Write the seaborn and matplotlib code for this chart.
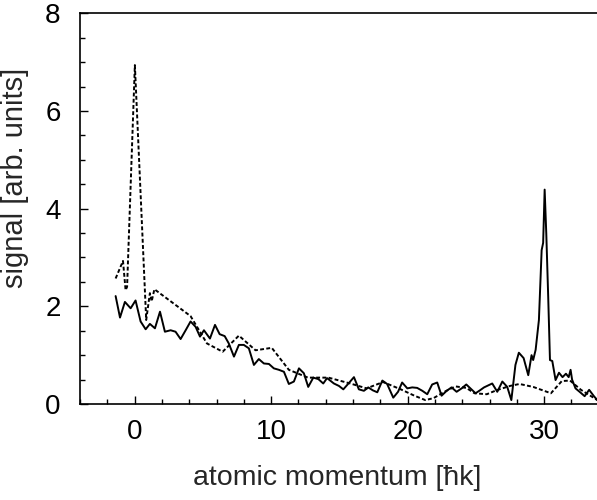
import numpy as np
import pandas as pd
import matplotlib
matplotlib.use("Agg")
import matplotlib.pyplot as plt
from matplotlib.ticker import MultipleLocator
import seaborn as sns

# Measured momentum distributions (solid: after transfer, dashed: reference)
solid_x = [-1.39, -1.07, -0.71, -0.29, 0.07, 0.44, 0.81, 1.12, 1.49, 1.86,
           2.22, 2.64, 3.00, 3.37, 3.74, 4.10, 4.47, 4.79, 5.08, 5.52,
           5.89, 6.23, 6.60, 6.90, 7.28, 7.64, 8.00, 8.37, 8.74, 9.10,
           9.47, 9.84, 10.20, 10.57, 10.94, 11.30, 11.67, 12.04, 12.40, 12.72,
           13.09, 13.46, 13.82, 14.10, 14.60, 14.97, 15.29, 15.70, 16.07, 16.43,
           16.80, 17.12, 17.45, 17.78, 18.15, 18.50, 18.95, 19.30, 19.60, 19.98,
           20.34, 20.70, 21.08, 21.44, 21.80, 22.17, 22.49, 22.86, 23.22, 23.59,
           23.96, 24.30, 24.60, 24.98, 25.30, 25.60, 26.20, 26.57, 26.94, 27.30,
           27.60, 27.90, 28.15, 28.50, 28.84, 29.08, 29.20, 29.38, 29.62, 29.82,
           29.93, 30.04, 30.16, 30.30, 30.43, 30.60, 30.84, 31.09, 31.35, 31.60,
           31.80, 31.94, 32.05, 32.30, 32.60, 32.97, 33.30, 33.65, 33.90]
solid_y = [2.21, 1.77, 2.09, 1.96, 2.12, 1.69, 1.53, 1.64, 1.55, 1.89,
           1.48, 1.51, 1.48, 1.33, 1.51, 1.69, 1.58, 1.38, 1.51, 1.34,
           1.62, 1.43, 1.39, 1.24, 0.97, 1.21, 1.21, 1.14, 0.80, 0.92,
           0.83, 0.82, 0.73, 0.70, 0.66, 0.41, 0.46, 0.73, 0.63, 0.35,
           0.54, 0.51, 0.42, 0.53, 0.42, 0.37, 0.30, 0.43, 0.55, 0.30,
           0.27, 0.34, 0.28, 0.24, 0.48, 0.41, 0.13, 0.25, 0.44, 0.32,
           0.34, 0.33, 0.27, 0.20, 0.40, 0.44, 0.17, 0.27, 0.34, 0.25,
           0.32, 0.40, 0.32, 0.22, 0.28, 0.34, 0.42, 0.25, 0.46, 0.35,
           0.08, 0.80, 1.05, 0.94, 0.59, 1.00, 0.90, 1.11, 1.72, 3.15,
           3.30, 4.39, 3.49, 2.20, 0.90, 0.88, 0.49, 0.64, 0.55, 0.62,
           0.55, 0.70, 0.50, 0.32, 0.25, 0.16, 0.29, 0.16, 0.08]

dashed_x = [-1.39, -0.85, -0.66, -0.55, 0.02, 0.85, 1.12, 1.25, 1.45, 4.10,
            5.30, 6.45, 7.64, 8.86, 10.05, 11.30, 12.70, 14.20, 15.80, 17.00,
            18.20, 19.50, 20.50, 21.30, 21.90, 22.70, 23.50, 24.30, 24.90, 25.80,
            26.50, 27.50, 28.20, 29.20, 30.50, 31.30, 31.90, 32.70, 33.90]
dashed_y = [2.57, 2.93, 2.33, 2.40, 6.94, 1.72, 2.27, 2.10, 2.35, 1.80,
            1.24, 1.07, 1.40, 1.10, 1.15, 0.70, 0.54, 0.54, 0.42, 0.32,
            0.45, 0.30, 0.17, 0.08, 0.12, 0.25, 0.36, 0.33, 0.22, 0.20,
            0.28, 0.37, 0.41, 0.35, 0.22, 0.47, 0.48, 0.29, 0.08]

x_major_ticks = [0, 10, 20, 30]
y_major_ticks = [0, 2, 4, 6, 8]

sns.set_style("ticks")
plt.rcParams["font.family"] = ["Liberation Sans", "DejaVu Sans"]

fig = plt.figure(figsize=(5.97, 5.0), dpi=100)
ax = fig.add_axes([80 / 597, 96 / 500, 518.7 / 597, 390.7 / 500])

solid = pd.DataFrame({"p": solid_x, "s": solid_y})
dashed = pd.DataFrame({"p": dashed_x, "s": dashed_y})

sns.lineplot(data=solid, x="p", y="s", ax=ax, color="black", lw=1.4,
             sort=False, estimator=None)
sns.lineplot(data=dashed, x="p", y="s", ax=ax, color="black", lw=1.4,
             sort=False, estimator=None, dashes=False, linestyle=(0, (2.0, 1.2)))

ax.set_xlim(-4, 34)
ax.set_ylim(0, 8)
ax.set_xticks(x_major_ticks)
ax.set_yticks(y_major_ticks)
ax.xaxis.set_minor_locator(MultipleLocator(2))
ax.yaxis.set_minor_locator(MultipleLocator(0.5))
ax.tick_params(which="both", direction="in", top=False, right=False,
               labelsize=20, width=1.0, colors="black")
ax.tick_params(axis="x", which="both", pad=11)
ax.tick_params(axis="y", which="both", pad=14)
ax.tick_params(which="major", length=6)
ax.tick_params(which="minor", length=3.5)

for side in ["left", "bottom", "top", "right"]:
    ax.spines[side].set_visible(True)
    ax.spines[side].set_linewidth(1.2)
    ax.spines[side].set_color("black")

ax.set_xlabel("atomic momentum [ħk]", fontsize=20.5)
ax.set_ylabel("signal [arb. units]", fontsize=21)
ax.xaxis.set_label_coords(0.4955, -0.155)
ax.yaxis.set_label_coords(-0.098, 0.578)

fig.savefig("out.png", dpi=100)
